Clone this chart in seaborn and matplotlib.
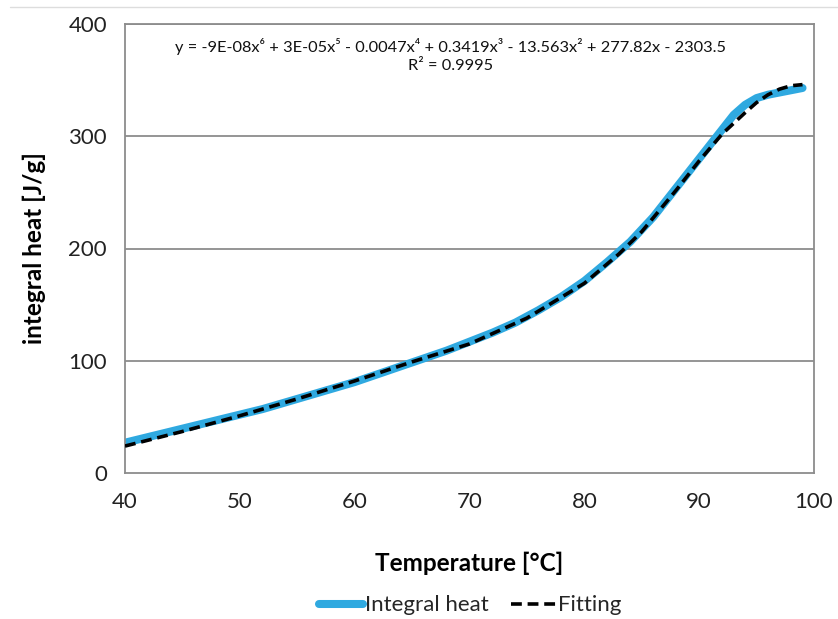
import numpy as np
import pandas as pd
import matplotlib
matplotlib.use("Agg")
import matplotlib.pyplot as plt
from matplotlib.lines import Line2D
import seaborn as sns

# Measured integral heat curve
temp_measured = [40, 42, 44, 46, 48, 50, 52, 54, 56, 58, 60, 62, 64, 66, 68,
                 70, 72, 74, 76, 78, 80, 82, 84, 86, 88, 90, 91, 92, 93, 94,
                 95, 96, 97, 98, 99]
heat_measured = [27, 32, 37, 42, 47, 52, 57, 63, 69, 75, 81, 88, 95, 102, 109,
                 117, 125, 134, 145, 157, 171, 188, 206, 228, 254, 280, 293,
                 306, 319, 328, 334, 337, 339, 341, 343]

# Polynomial fit curve
temp_fit = [40, 45, 50, 55, 60, 65, 70, 75, 80, 83, 85, 88, 90, 92, 94, 95,
            96, 97, 98, 99]
heat_fit = [24, 37, 51, 66, 82, 99, 115, 138, 169, 195, 215, 252, 278, 302,
            321, 330, 337, 342, 345, 346]

x_ticks = [40, 50, 60, 70, 80, 90, 100]
y_ticks = [0, 100, 200, 300, 400]

equation = ("y = -9E-08x\u2076 + 3E-05x\u2075 - 0.0047x\u2074 + 0.3419x\u00b3 "
            "- 13.563x\u00b2 + 277.82x - 2303.5\nR\u00b2 = 0.9995")

sns.set_theme(style="white")
plt.rcParams["font.family"] = ["Lato", "DejaVu Sans"]

measured = pd.DataFrame({"T": temp_measured, "Q": heat_measured})
fitted = pd.DataFrame({"T": temp_fit, "Q": heat_fit})

fig = plt.figure(figsize=(8.38, 6.19), dpi=100)
ax = fig.add_axes([125 / 838, 1 - 473 / 619, 689 / 838, 449 / 619])

grid_color = "#8c8c8c"
for y in y_ticks[1:]:
    ax.axhline(y, color=grid_color, lw=1.3, zorder=0)

sns.lineplot(data=measured, x="T", y="Q", ax=ax, color="#2fa9e0", lw=5.8,
             solid_capstyle="round", label="Integral heat", zorder=2)
sns.lineplot(data=fitted, x="T", y="Q", ax=ax, color="black", lw=2.6,
             dashes=False, label="Fitting", zorder=3)
ax.lines[-1].set_linestyle((0, (3, 1.6)))

ax.set_xlim(40, 100)
ax.set_ylim(0, 400)
ax.set_xticks(x_ticks)
ax.set_yticks(y_ticks)
ax.tick_params(axis="both", labelsize=16, colors="#222222", length=6,
               width=1.2, direction="out", color=grid_color, pad=7)
ax.tick_params(axis="x", pad=8)
for side in ["left", "bottom", "right", "top"]:
    ax.spines[side].set_color(grid_color)
    ax.spines[side].set_linewidth(1.3)
    ax.spines[side].set_visible(True)

ax.set_xlabel("Temperature [\u00b0C]", fontsize=17.5, fontweight="bold",
              labelpad=28, color="black")
ax.set_ylabel("integral heat [J/g]", fontsize=17.5, fontweight="bold",
              labelpad=16, color="black")

ax.text(0.472, 0.93, equation, transform=ax.transAxes, ha="center",
        va="center", fontsize=11.8, multialignment="center",
        linespacing=1.35, color="#111111")

ax.get_legend().remove()
handles = [Line2D([], [], color="#2fa9e0", lw=5.8, solid_capstyle="round"),
           Line2D([], [], color="black", lw=2.6, linestyle=(0, (3, 1.6)))]
fig.legend(handles, ["Integral heat", "Fitting"], loc="center",
           bbox_to_anchor=(0.561, 0.022), ncol=2, frameon=False,
           fontsize=16, handlelength=2.0, handletextpad=0.1,
           columnspacing=1.0)

fig.add_artist(Line2D([10 / 838, 1], [1 - 7 / 619, 1 - 7 / 619],
                      transform=fig.transFigure, color="#dddddd", lw=1))

fig.savefig("out.png", dpi=100, facecolor="white")
